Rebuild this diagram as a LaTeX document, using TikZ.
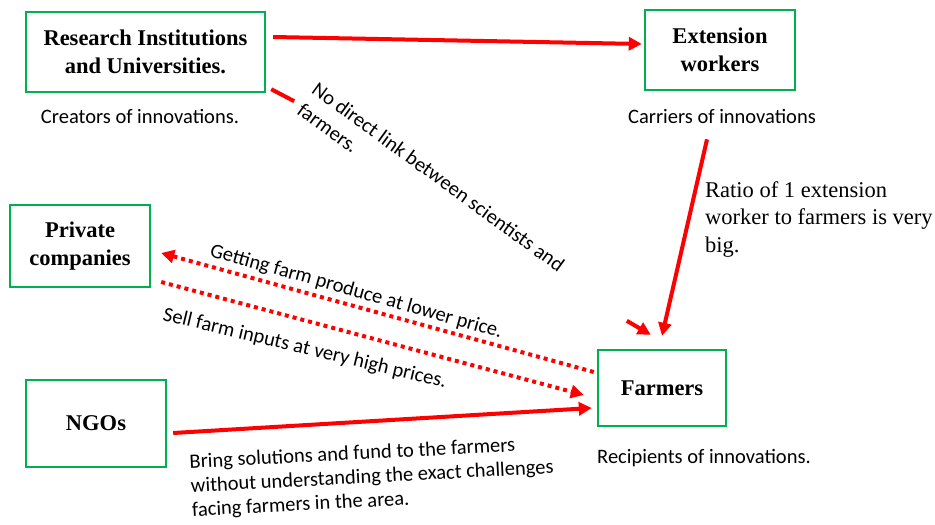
\documentclass[tikz,border=0pt]{standalone}
\usepackage{fontspec}
\setmainfont{Liberation Serif}
\newfontfamily\calib{Carlito}
\usetikzlibrary{arrows.meta, positioning}
\definecolor{boxgreen}{HTML}{00B050}
\definecolor{linkred}{HTML}{FF0000}

\tikzset{
    actor/.style={draw=boxgreen, line width=2.4pt, rectangle, align=center,
        font=\fontsize{22.5}{28}\selectfont\bfseries, inner sep=0pt},
    note/.style={font=\calib\fontsize{20.5}{25}\selectfont, inner sep=0pt},
    flow/.style={draw=linkred, line width=4pt, -{Triangle[length=13pt,width=13pt]}},
    dotflow/.style={flow, dash pattern=on 4pt off 4pt},
}

\begin{document}
\begin{tikzpicture}[x=1pt, y=-1pt]
    \useasboundingbox (0,0) rectangle (935,525);
    % actors
    \node[actor, minimum width=239pt, minimum height=80pt] (res) at (145.5,52) {Research Institutions\\and Universities.};
    \node[actor, minimum width=150pt, minimum height=80pt] (ext) at (720,50) {Extension\\workers};
    \node[actor, minimum width=140pt, minimum height=82pt] (priv) at (80,246) {Private\\companies};
    \node[actor, minimum width=140pt, minimum height=87pt] (ngo) at (96,423.5) {NGOs};
    \node[actor, minimum width=128pt, minimum height=76pt] (farm) at (662,388) {Farmers};

    % roles
    \node[note, anchor=base] (creat) at (140,123) {Creators of innovations.};
    \node[note, anchor=base] (carr) at (722,123) {Carriers of innovations};
    \node[note, anchor=base] (recip) at (704,463) {Recipients of innovations.};
    \node[anchor=north west, align=left, inner sep=0pt,
          font=\fontsize{22.5}{27.5}\selectfont] (ratio) at (705,181)
          {Ratio of 1 extension\\worker to farmers is very\\big.};

    % links
    \draw[flow] ([xshift=7pt,yshift=15pt]res.east) -- ([xshift=-2pt,yshift=6pt]ext.west);
    \draw[flow] ([xshift=-15pt,yshift=-16pt]carr.south) -- ([yshift=13pt]farm.north);
    \draw[dotflow] ([xshift=-3pt,yshift=16pt]farm.west) -- ([xshift=10pt,yshift=-7pt]priv.east);
    \draw[dotflow] ([xshift=10pt,yshift=-36pt]priv.east) -- ([xshift=-13pt,yshift=-7pt]farm.west);
    \draw[flow] ([xshift=6pt,yshift=-9.5pt]ngo.east) -- ([xshift=-5pt,yshift=-20pt]farm.west);

    % broken link
    \coordinate (gapA) at ([xshift=28pt,yshift=-8pt]res.south east);
    \coordinate (gapB) at ([xshift=30pt,yshift=28pt]farm.north west);
    \draw[draw=linkred, line width=4pt] ([xshift=5pt,yshift=4pt]res.south east) -- (gapA);
    \draw[flow] (gapB) -- ([xshift=54pt,yshift=14pt]farm.north west);

    % link labels
    \node[note, anchor=north west, align=left, rotate=-36] (nolink) at (319,81)
        {No direct link between scientists and\\farmers.};
    \node[note, anchor=base west, rotate=-15.7] (getl) at (209,256) {Getting farm produce at lower price.};
    \node[note, anchor=base west, rotate=-13.5] (selll) at (162,320) {Sell farm inputs at very high prices.};
    \node[note, anchor=north west, align=left, rotate=3, font=\calib\fontsize{20.5}{24}\selectfont] (bringl) at (189,454)
        {Bring solutions and fund to the farmers\\without understanding the exact challenges\\facing farmers in the area.};
\end{tikzpicture}
\end{document}
